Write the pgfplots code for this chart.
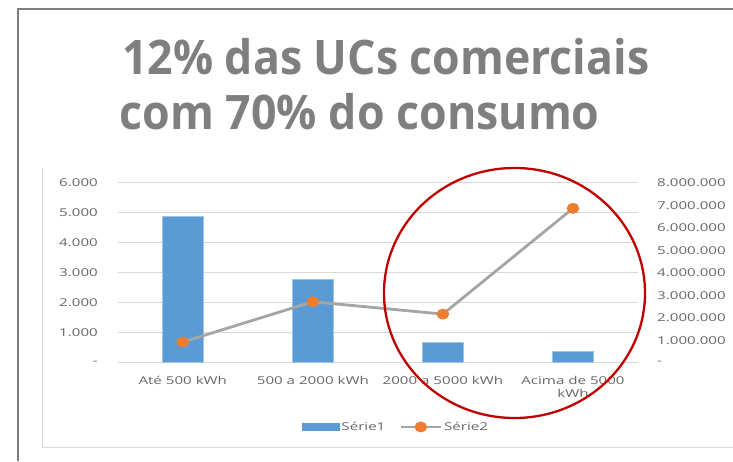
\documentclass[border=0pt]{standalone}
\usepackage{pgfplots}
\pgfplotsset{compat=1.18}
\usepackage{graphicx}
\usepackage{fontspec}
\setmainfont{Open Sans}
% chart labels look horizontally stretched in the reference
\newfontfamily\labfont[FakeStretch=1.4]{Open Sans}
\newcommand{\labsize}{\labfont\fontsize{10.8}{13.3}\selectfont}

\definecolor{barblue}{HTML}{5B9BD5}
\definecolor{lineorange}{HTML}{ED7D31}
\definecolor{linegray}{HTML}{A5A5A5}
\definecolor{titlegray}{HTML}{7F7F7F}
\definecolor{labgray}{HTML}{666666}
\definecolor{gridgray}{HTML}{D9D9D9}
\definecolor{circred}{HTML}{C00000}

\pgfplotsset{
  linelegend/.style={legend image code/.code={%
    \draw[linegray, line width=2.8pt] (0pt,0pt) -- (40pt,0pt);
    \fill[lineorange] (20pt,0pt) ellipse [x radius=4.8pt, y radius=4pt];}},
  barlegend/.style={legend image code/.code={%
    \fill[barblue] (0pt,-3.5pt) rectangle (37pt,3.5pt);}},
}

\begin{document}
\begin{tikzpicture}
\path[use as bounding box] (0pt,0pt) rectangle (733pt,461pt);

% slide frame and chart area border
\draw[titlegray, line width=2pt] (18pt,0pt) -- (18pt,451.5pt) -- (733pt,451.5pt);
\draw[gridgray, line width=0.8pt] (42pt,293pt) -- (42pt,14pt) -- (733pt,14pt);

% title
\node[anchor=base west, inner sep=0pt, text=titlegray] at (122pt,386pt)
  {\resizebox{527pt}{\height}{\fontsize{47.6}{55}\selectfont\bfseries 12\% das UCs comerciais}};
\node[anchor=base west, inner sep=0pt, text=titlegray] at (119.5pt,331pt)
  {\resizebox{480pt}{\height}{\fontsize{47.6}{55}\selectfont\bfseries com 70\% do consumo}};

% bars, left axis
\begin{axis}[
  at={(117.75pt,98.3pt)}, anchor=south west,
  scale only axis, width=520.25pt, height=180pt,
  xmin=-0.5, xmax=3.5, ymin=0, ymax=6000,
  axis line style={draw=none},
  major tick length=0pt,
  xtick={0,1,2,3},
  xticklabels={Até 500 kWh, 500 a 2000 kWh, 2000 a 5000 kWh, {Acima de 5000\\kWh}},
  xticklabel style={align=center, anchor=north, inner sep=0pt, yshift=-13pt,
    font=\labsize, text=labgray},
  ytick={0,1000,2000,3000,4000,5000,6000},
  yticklabels={{-\hspace{8pt}},1.000,2.000,3.000,4.000,5.000,6.000},
  yticklabel style={anchor=east, inner sep=0pt, xshift=-19.75pt,
    font=\labsize, text=labgray},
  ymajorgrids, grid style={gridgray, line width=1pt},
  ybar, bar width=40.5pt,
]
\addplot[fill=barblue, draw=barblue!60!white, line width=0.5pt] coordinates {
(0,4867)
(1,2790)
(2,680)
(3,380)
};
\end{axis}

% line, right axis
\begin{axis}[
  at={(117.75pt,98.3pt)}, anchor=south west,
  scale only axis, width=520.25pt, height=180pt,
  xmin=-0.5, xmax=3.5, ymin=0, ymax=8000000,
  hide x axis, axis y line*=right,
  axis line style={draw=none},
  major tick length=0pt,
  scaled y ticks=false,
  ytick={0,1000000,2000000,3000000,4000000,5000000,6000000,7000000,8000000},
  yticklabels={-,1.000.000,2.000.000,3.000.000,4.000.000,5.000.000,6.000.000,7.000.000,8.000.000},
  yticklabel style={anchor=west, inner sep=0pt, xshift=19pt,
    font=\labsize, text=labgray},
  legend columns=2,
  legend style={draw=none, fill=none, at={(0.535,-0.357)}, anchor=center,
    font=\labsize, text=labgray,
    /tikz/every even column/.append style={column sep=12pt}},
]
\addlegendimage{barlegend}
\addplot[linegray, line width=2.8pt, mark=*, mark size=4pt,
  mark options={draw=lineorange, fill=lineorange, xscale=1.2}, linelegend]
  coordinates {
(0,920000)
(1,2710000)
(2,2160000)
(3,6860000)
};
\legend{Série1, Série2}
\end{axis}

% highlight
\draw[circred, line width=2.3pt] (514.5pt,168pt) ellipse [x radius=130.5pt, y radius=125pt];
\end{tikzpicture}
\end{document}
